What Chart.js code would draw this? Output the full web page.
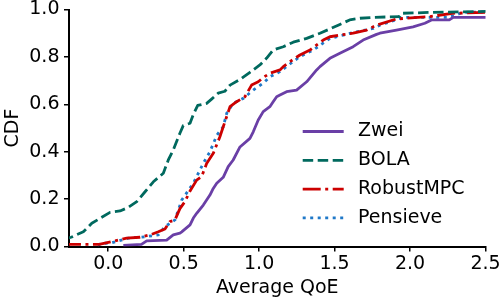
<!DOCTYPE html>
<html>
<head>
<meta charset="utf-8">
<script src="https://cdn.jsdelivr.net/npm/chart.js@4"></script>
<style>
  html, body { margin: 0; padding: 0; background: #fff; }
  #wrap { width: 500px; height: 300px; position: relative; }
</style>
</head>
<body>
<div id="wrap"><canvas id="cdfChart" width="500" height="300"></canvas></div>
<script>
// values (Average QoE -> CDF)
const zweiX = [0.10, 0.22, 0.255, 0.387, 0.431, 0.475, 0.487, 0.542, 0.564, 0.586, 0.630, 0.652, 0.674, 0.696, 0.719, 0.762, 0.795, 0.828, 0.873, 0.939, 0.961, 0.994, 1.027, 1.071, 1.093, 1.116, 1.138, 1.182, 1.248, 1.315, 1.381, 1.403, 1.469, 1.535, 1.623, 1.689, 1.778, 1.80, 1.91, 2.02, 2.098, 2.142, 2.26, 2.286, 2.6];
const zweiY = [0.005, 0.009, 0.024, 0.027, 0.049, 0.056, 0.062, 0.091, 0.12, 0.14, 0.175, 0.196, 0.217, 0.245, 0.267, 0.292, 0.337, 0.365, 0.42, 0.456, 0.484, 0.534, 0.569, 0.590, 0.611, 0.632, 0.639, 0.653, 0.660, 0.695, 0.745, 0.759, 0.794, 0.815, 0.843, 0.871, 0.895, 0.90, 0.913, 0.927, 0.942, 0.956, 0.956, 0.967, 0.967];

const bolaX = [-0.3, -0.246, -0.165, -0.109, -0.054, 0.012, 0.078, 0.133, 0.189, 0.244, 0.299, 0.365, 0.398, 0.431, 0.475, 0.497, 0.542, 0.564, 0.593, 0.652, 0.685, 0.729, 0.773, 0.807, 0.873, 0.939, 1.005, 1.05, 1.093, 1.16, 1.226, 1.315, 1.403, 1.469, 1.535, 1.60, 1.668, 1.756, 1.93, 1.944, 2.15, 2.6];
const bolaY = [0.03, 0.039, 0.062, 0.098, 0.119, 0.144, 0.150, 0.165, 0.189, 0.231, 0.273, 0.309, 0.365, 0.407, 0.478, 0.51, 0.52, 0.557, 0.595, 0.604, 0.622, 0.647, 0.655, 0.681, 0.705, 0.735, 0.766, 0.795, 0.829, 0.843, 0.862, 0.878, 0.900, 0.918, 0.937, 0.956, 0.963, 0.967, 0.97, 0.984, 0.988, 0.993];

const mpcX = [-0.3, -0.06, 0.045, 0.122, 0.21, 0.277, 0.332, 0.376, 0.409, 0.442, 0.475, 0.508, 0.542, 0.586, 0.619, 0.652, 0.696, 0.740, 0.762, 0.807, 0.851, 0.906, 0.950, 0.994, 1.027, 1.071, 1.138, 1.16, 1.204, 1.27, 1.337, 1.425, 1.469, 1.535, 1.623, 1.712, 1.778, 1.91, 2.13, 2.28, 2.6];
const mpcY = [0.009, 0.009, 0.024, 0.035, 0.039, 0.049, 0.062, 0.074, 0.105, 0.112, 0.16, 0.189, 0.234, 0.28, 0.295, 0.35, 0.393, 0.463, 0.505, 0.590, 0.611, 0.632, 0.681, 0.695, 0.713, 0.731, 0.745, 0.759, 0.78, 0.808, 0.829, 0.871, 0.885, 0.892, 0.90, 0.913, 0.934, 0.96, 0.97, 0.984, 0.99];

const pensieveX = [-0.07, -0.043, 0.02, 0.133, 0.244, 0.332, 0.376, 0.442, 0.487, 0.564, 0.630, 0.674, 0.72, 0.762, 0.785, 0.828, 0.895, 0.961, 1.027, 1.071, 1.138, 1.204, 1.27, 1.359, 1.469, 1.557, 1.646, 1.756, 1.80, 1.955, 2.26, 2.35, 2.6];
const pensieveY = [0.005, 0.013, 0.015, 0.035, 0.041, 0.049, 0.084, 0.112, 0.196, 0.267, 0.351, 0.40, 0.47, 0.505, 0.562, 0.604, 0.625, 0.660, 0.689, 0.716, 0.738, 0.770, 0.801, 0.829, 0.878, 0.892, 0.906, 0.92, 0.934, 0.967, 0.967, 0.988, 0.99];

const xTicks = [0.0, 0.5, 1.0, 1.5, 2.0, 2.5];
const yTicks = [0.0, 0.2, 0.4, 0.6, 0.8, 1.0];

const FONT = 'DejaVu Sans';
const toPoints = (xs, ys) => xs.map((x, i) => ({ x: x, y: ys[i] }));

// matplotlib-like legend drawn inside the axes, no frame
const insideLegend = {
    id: 'insideLegend',
    afterDraw(chart) {
        const ctx = chart.ctx;
        ctx.save();
        chart.data.datasets.forEach((ds, i) => {
            const y = 131.5 + i * 28.8;
            ctx.beginPath();
            ctx.setLineDash(ds.borderDash || []);
            ctx.lineWidth = ds.borderWidth;
            ctx.strokeStyle = ds.borderColor;
            ctx.moveTo(302.7, y);
            ctx.lineTo(343.7, y);
            ctx.stroke();
            ctx.setLineDash([]);
            ctx.fillStyle = '#000';
            ctx.font = '19px "' + FONT + '"';
            ctx.textBaseline = 'middle';
            ctx.textAlign = 'left';
            ctx.fillText(ds.label, 358, y);
        });
        ctx.restore();
    }
};

const ctx = document.getElementById('cdfChart').getContext('2d');
new Chart(ctx, {
    type: 'line',
    data: {
        datasets: [
            { label: 'Zwei', data: toPoints(zweiX, zweiY), borderColor: '#6a3fa6', borderWidth: 2.8 },
            { label: 'BOLA', data: toPoints(bolaX, bolaY), borderColor: '#00695e', borderWidth: 2.8, borderDash: [10.5, 4.5] },
            { label: 'RobustMPC', data: toPoints(mpcX, mpcY), borderColor: '#cc0000', borderWidth: 2.8, borderDash: [18, 4.5, 3, 4.5] },
            { label: 'Pensieve', data: toPoints(pensieveX, pensieveY), borderColor: '#1f78c8', borderWidth: 2.8, borderDash: [3, 4.5] }
        ]
    },
    options: {
        responsive: false,
        animation: false,
        events: [],
        layout: { padding: { top: 9.5, right: 14.5, left: 0, bottom: 0 } },
        elements: {
            point: { radius: 0 },
            line: { tension: 0, fill: false, borderJoinStyle: 'round' }
        },
        plugins: {
            legend: { display: false },
            tooltip: { enabled: false }
        },
        scales: {
            x: {
                type: 'linear',
                min: -0.26,
                max: 2.5,
                afterBuildTicks: s => { s.ticks = xTicks.map(v => ({ value: v })); },
                afterFit: s => { s.height = 53.5; s.paddingLeft = 0; s.paddingRight = 0; },
                ticks: {
                    color: '#000',
                    font: { family: FONT, size: 19 },
                    padding: 1,
                    maxRotation: 0,
                    autoSkip: false,
                    callback: v => v.toFixed(1)
                },
                grid: { drawOnChartArea: false, drawTicks: true, tickLength: 5, color: '#000', lineWidth: 1.5 },
                border: { display: true, color: '#000', width: 2 },
                title: { display: true, text: 'Average QoE', color: '#000', font: { family: FONT, size: 19 }, padding: { top: 0, bottom: 1 } }
            },
            y: {
                type: 'linear',
                min: 0,
                max: 1,
                afterBuildTicks: s => { s.ticks = yTicks.map(v => ({ value: v })); },
                afterFit: s => { s.width = 69; s.paddingTop = 0; s.paddingBottom = 0; },
                ticks: {
                    color: '#000',
                    font: { family: FONT, size: 19 },
                    padding: 4.5,
                    autoSkip: false,
                    callback: v => v.toFixed(1)
                },
                grid: { drawOnChartArea: false, drawTicks: true, tickLength: 5, color: '#000', lineWidth: 1.5 },
                border: { display: true, color: '#000', width: 2 },
                title: { display: true, text: 'CDF', color: '#000', font: { family: FONT, size: 19 }, padding: { top: 1.6, bottom: 0 } }
            }
        }
    },
    plugins: [insideLegend]
});
</script>
</body>
</html>
